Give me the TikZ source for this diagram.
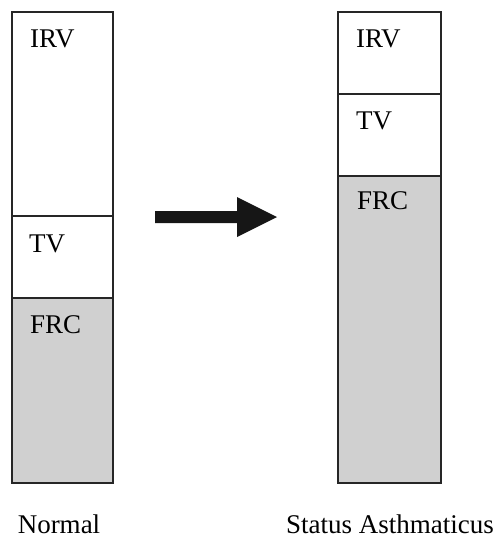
\documentclass[tikz,border=0pt]{standalone}
\usepackage{fontspec}
\setmainfont{Liberation Serif}
\definecolor{frcgray}{RGB}{208,208,208}
\definecolor{arrowblack}{RGB}{22,22,22}
\begin{document}
\begin{tikzpicture}[x=1pt, y=-1pt,
  seg/.style={draw=black!85, line width=1.5pt},
  gas/.style={seg, fill=frcgray},
  lbl/.style={anchor=base west, inner sep=0pt, font=\fontsize{27}{27}\selectfont},
  captiontext/.style={anchor=base, inner sep=0pt, font=\fontsize{27}{27}\selectfont}]
\useasboundingbox (0,0) rectangle (497,538);

% Normal lung volumes
\draw[seg] (12,12) rectangle (113,216);
\draw[seg] (12,216) rectangle (113,298);
\draw[gas] (12,298) rectangle (113,483);
\node[lbl] (nirv) at (30,47) {IRV};
\node[lbl] (ntv) at (29,252) {TV};
\node[lbl] (nfrc) at (30,333) {FRC};

% Hyperinflated lung volumes
\draw[seg] (338,12) rectangle (441,94);
\draw[seg] (338,94) rectangle (441,176);
\draw[gas] (338,176) rectangle (441,483);
\node[lbl] (sirv) at (356,47) {IRV};
\node[lbl] (stv) at (356,129) {TV};
\node[lbl] (sfrc) at (357,209) {FRC};

% Block arrow between the columns
\fill[arrowblack] (155,211) -- (237,211) -- (237,197) -- (277,217)
  -- (237,237) -- (237,223) -- (155,223) -- cycle;

% Captions
\node[captiontext] (normal) at (59,533) {Normal};
\node[captiontext] (status) at (390,533) {Status Asthmaticus};
\end{tikzpicture}
\end{document}
